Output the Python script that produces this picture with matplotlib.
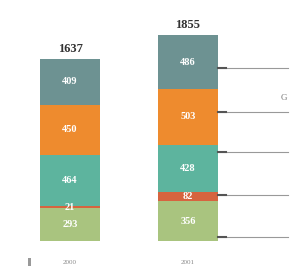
import numpy as np
import matplotlib.pyplot as plt
from matplotlib.patches import Rectangle

years = ['2000', '2001']
totals = ['1637', '1855']
# stacked segments, bottom to top
seg_green = [293, 356]
seg_red = [21, 82]
seg_teal = [464, 428]
seg_orange = [450, 503]
seg_gray = [409, 486]
leader_y = [36, 414, 802, 1162, 1559]

colors = ['#a9c47f', '#d6643f', '#5db49e', '#ee8b2e', '#6d9292']
segments = [seg_green, seg_red, seg_teal, seg_orange, seg_gray]

plt.rcParams['font.family'] = ['Liberation Serif', 'DejaVu Serif']

fig = plt.figure(figsize=(2.98, 2.67), dpi=100)
ax = fig.add_axes([0, 0, 1, 1])
ax.set_xlim(-0.593, 1.932)
ax.set_ylim(-234, 2171)
ax.axis('off')

x = np.arange(len(years))
bottom = np.zeros(len(years))
for vals, col in zip(segments, colors):
    vals = np.array(vals)
    ax.bar(x, vals, bottom=bottom, width=0.51, color=col, linewidth=0)
    for xi, b, v in zip(x, bottom, vals):
        ax.text(xi, b + v / 2, str(v), ha='center', va='center',
                color='white', fontsize=7.5, fontweight='bold')
    bottom = bottom + vals

for xi, top, t in zip(x, bottom, totals):
    ax.text(xi, top + 40, t, ha='center', va='bottom', color='#333333',
            fontsize=9, fontweight='bold')

for xi, yr in zip(x, years):
    ax.text(xi, -190, yr, ha='center', va='center', color='#888888', fontsize=5)

# leader lines on the right of the second bar
for ly in leader_y:
    ax.plot([1.254, 1.847], [ly, ly], color='#999999', linewidth=0.8)
    ax.plot([1.254, 1.32], [ly, ly], color='#555555', linewidth=1.5)

ax.text(1.814, 1288, 'G', ha='center', va='center', color='#777777', fontsize=6.5)
ax.add_patch(Rectangle((-0.352, -225), 0.025, 75, color='#999999', linewidth=0))

fig.savefig('out.png', dpi=100)
